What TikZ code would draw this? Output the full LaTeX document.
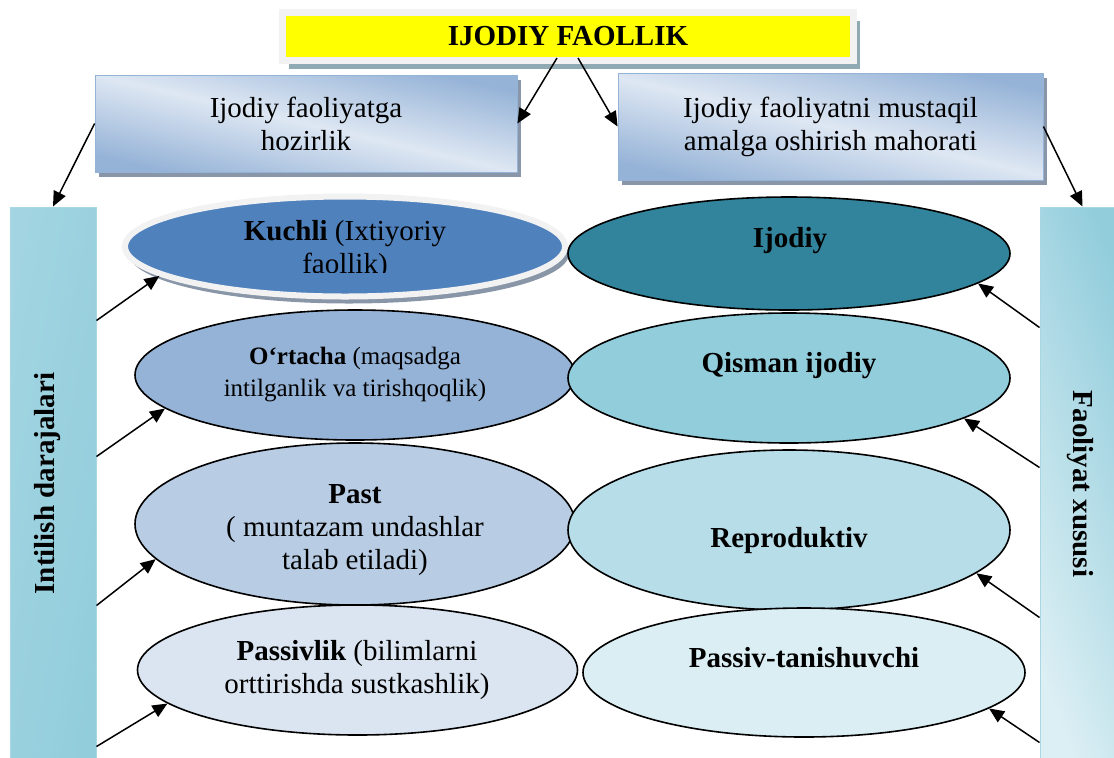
\documentclass[tikz,border=0pt]{standalone}
\usepackage{fontspec}
\setmainfont{Liberation Serif}
\usetikzlibrary{arrows.meta, positioning, shapes.geometric, shadows}

\definecolor{titleYellow}{RGB}{255,255,0}
\definecolor{frameGray}{RGB}{242,242,242}
\definecolor{frameShadow}{RGB}{143,170,178}
\definecolor{boxBlue}{RGB}{149,179,215}
\definecolor{boxLight}{RGB}{222,231,243}
\definecolor{boxShadow}{RGB}{136,150,168}
\definecolor{barDark}{RGB}{146,205,220}
\definecolor{barLight}{RGB}{220,239,244}
\definecolor{strongBlue}{RGB}{79,129,189}
\definecolor{levelTwo}{RGB}{149,179,215}
\definecolor{levelThree}{RGB}{184,204,228}
\definecolor{levelFour}{RGB}{219,229,241}
\definecolor{kindOne}{RGB}{49,132,155}
\definecolor{kindTwo}{RGB}{146,205,220}
\definecolor{kindThree}{RGB}{183,221,232}
\definecolor{kindFour}{RGB}{218,238,243}

\tikzset{
    arr/.style={-{Triangle[length=7.5pt,width=6.5pt]}, line width=0.75pt},
    level/.style={ellipse, draw=black, line width=0.8pt, inner sep=0pt},
    topbox/.style={rectangle, inner sep=0pt, align=center, draw=boxBlue, line width=0.4pt,
        left color=boxBlue, right color=boxBlue, middle color=boxLight, shading angle=-13,
        drop shadow={shadow xshift=2pt, shadow yshift=-2.5pt, fill=boxShadow, opacity=1},
        font=\fontsize{14.5}{16.5}\selectfont},
    sidebar/.style={rectangle, inner sep=0pt, draw=barDark!80, line width=0.5pt},
    txt/.style={align=center, font=\fontsize{14.5}{16.5}\selectfont},
    sidetext/.style={font=\fontsize{14.5}{16.5}\selectfont\bfseries}
}

\begin{document}
\begin{tikzpicture}[x=0.5pt, y=-0.5pt]
    \useasboundingbox (0,0) rectangle (1114,757);

    % title
    \node[fill=titleYellow, draw=frameGray, line width=3.5pt, inner sep=0pt,
          minimum width=285.5pt, minimum height=24pt,
          drop shadow={shadow xshift=3pt, shadow yshift=-4pt, fill=frameShadow, opacity=1},
          font=\fontsize{14.5}{16.5}\selectfont\bfseries] (title) at (568,36.5) {IJODIY FAOLLIK};

    % the two upper boxes
    \node[topbox, minimum width=211pt, minimum height=48.5pt] (hozir) at (306,123.5)
        {Ijodiy faoliyatga\\ hozirlik};
    \node[topbox, minimum width=212.5pt, minimum height=53.5pt] (mahorat) at (830.5,126.5)
        {Ijodiy faoliyatni mustaqil\\ amalga oshirish mahorati};

    % side bars
    \node[sidebar, minimum width=43pt, minimum height=276.5pt,
          left color=barDark!85, middle color=barLight, right color=barDark, shading angle=80]
          (lbar) at (53,483.5) {};
    \node[sidebar, minimum width=42.5pt, minimum height=276.5pt,
          left color=barLight, middle color=barLight!60!barDark, right color=barDark, shading angle=110]
          (rbar) at (1082.5,483.5) {};
    \node[sidetext, rotate=90] (lbarText) at (48,483.5) {Intilish darajalari};
    \node[sidetext, rotate=-90] (rbarText) at (1080,484) {Faoliyat xususi};

    % levels of striving
    \node[ellipse, fill=strongBlue, draw=frameGray, line width=3pt, inner sep=0pt,
          minimum width=220pt, minimum height=50pt,
          drop shadow={shadow xshift=2pt, shadow yshift=-3.5pt, fill=boxShadow, opacity=1}]
          (kuchli) at (345,246.5) {};
    \begin{scope}
        \clip (120,190) rectangle (570,272);
        \node[txt] (kuchliText) at (345,250) {\textbf{Kuchli} (Ixtiyoriy\\ faollik)};
    \end{scope}
    \node[level, fill=levelTwo, minimum width=220pt, minimum height=65pt] (ortacha) at (355,375) {};
    \node[txt, font=\fontsize{12.5}{16}\selectfont] (ortachaText) at (355,375)
        {\textbf{O‘rtacha} (maqsadga\\ intilganlik va tirishqoqlik)};
    \node[level, fill=levelThree, minimum width=220pt, minimum height=81pt] (past) at (355,524) {};
    \begin{scope}
        \clip (130,440) rectangle (580,574);
        \node[txt] (pastText) at (355,530.5) {\textbf{Past}\\ ( muntazam undashlar\\ talab etiladi)};
    \end{scope}
    \node[level, fill=levelFour, minimum width=220pt, minimum height=65pt] (passiv) at (357.5,670) {};
    \node[txt] (passivText) at (357,670.5) {\textbf{Passivlik} (bilimlarni\\ orttirishda sustkashlik)};

    % kinds of activity
    \node[level, fill=kindOne, minimum width=221pt, minimum height=56.5pt] (ijodiy) at (789,253.5) {};
    \node[txt, font=\fontsize{14.5}{16.5}\selectfont\bfseries, anchor=base] (ijodiyText) at (790,247) {Ijodiy};
    \node[level, fill=kindTwo, minimum width=221pt, minimum height=65pt] (qisman) at (789,378) {};
    \node[txt, font=\fontsize{14.5}{16.5}\selectfont\bfseries, anchor=base] (qismanText) at (789,372) {Qisman ijodiy};
    \node[level, fill=kindThree, minimum width=221pt, minimum height=80pt] (repro) at (789,530) {};
    \node[txt, font=\fontsize{14.5}{16.5}\selectfont\bfseries, anchor=base] (reproText) at (789,547) {Reproduktiv};
    \node[level, fill=kindFour, minimum width=221pt, minimum height=64.5pt] (tanish) at (804,672.5) {};
    \node[txt, font=\fontsize{14.5}{16.5}\selectfont\bfseries, anchor=base] (tanishText) at (804,667) {Passiv-tanishuvchi};

    % arrows from the title down to the bars
    \draw[arr] ([shift={(-11,-6)}]title.south) -- (hozir.east);
    \draw[arr] ([shift={(10,-6)}]title.south) -- (mahorat.west);
    \draw[arr] (hozir.west) -- (lbar.north);
    \draw[arr] (mahorat.east) -- (rbar.north);

    % arrows from the bars to the ellipses
    \draw[arr] ([yshift=-57pt]lbar.north east) -- (kuchli.189);
    \draw[arr] ([yshift=-125pt]lbar.north east) -- (ortacha.190);
    \draw[arr] ([yshift=-199.5pt]lbar.north east) -- (past.190);
    \draw[arr] ([yshift=-270pt]lbar.north east) -- (passiv.190);
    \draw[arr] ([yshift=-60.5pt]rbar.north west) -- (ijodiy.351);
    \draw[arr] ([yshift=-130.5pt]rbar.north west) -- (qisman.347);
    \draw[arr] ([yshift=-205.5pt]rbar.north west) -- (repro.347);
    \draw[arr] ([yshift=-268pt]rbar.north west) -- (tanish.349);
\end{tikzpicture}
\end{document}
